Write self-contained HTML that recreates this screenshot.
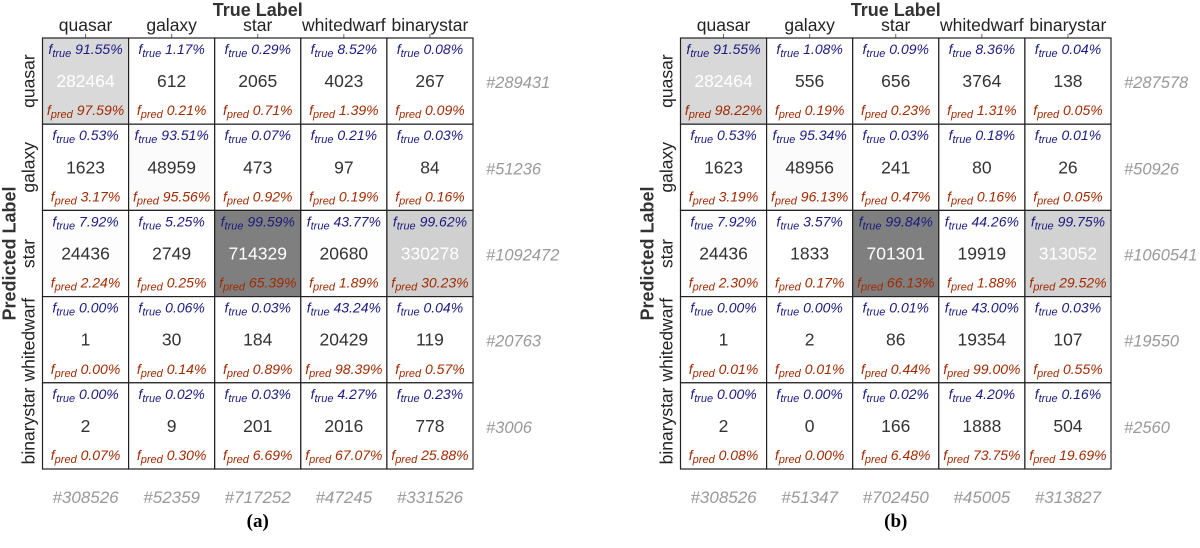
<!DOCTYPE html>
<html><head><meta charset="utf-8"><style>
body{margin:0;background:#fff;}
svg{display:block;font-family:"Liberation Sans",sans-serif;}
</style></head><body>
<svg id="chart" width="1200" height="548" viewBox="0 0 1200 548"></svg>
<script>
const classes = ["quasar","galaxy","star","whitedwarf","binarystar"];
// counts[row=predicted][col=true]
const countsA = [[282464,612,2065,4023,267],[1623,48959,473,97,84],[24436,2749,714329,20680,330278],[1,30,184,20429,119],[2,9,201,2016,778]];
const ftrueA = ["91.55","1.17","0.29","8.52","0.08","0.53","93.51","0.07","0.21","0.03","7.92","5.25","99.59","43.77","99.62","0.00","0.06","0.03","43.24","0.04","0.00","0.02","0.03","4.27","0.23"];
const fpredA = ["97.59","0.21","0.71","1.39","0.09","3.17","95.56","0.92","0.19","0.16","2.24","0.25","65.39","1.89","30.23","0.00","0.14","0.89","98.39","0.57","0.07","0.30","6.69","67.07","25.88"];
const rowTotA = [289431,51236,1092472,20763,3006];
const colTotA = [308526,52359,717252,47245,331526];
const countsB = [[282464,556,656,3764,138],[1623,48956,241,80,26],[24436,1833,701301,19919,313052],[1,2,86,19354,107],[2,0,166,1888,504]];
const ftrueB = ["91.55","1.08","0.09","8.36","0.04","0.53","95.34","0.03","0.18","0.01","7.92","3.57","99.84","44.26","99.75","0.00","0.00","0.01","43.00","0.03","0.00","0.00","0.02","4.20","0.16"];
const fpredB = ["98.22","0.19","0.23","1.31","0.05","3.19","96.13","0.47","0.16","0.05","2.30","0.17","66.13","1.88","29.52","0.01","0.01","0.44","99.00","0.55","0.08","0.00","6.48","73.75","19.69"];
const rowTotB = [287578,50926,1060541,19550,2560];
const colTotB = [308526,51347,702450,45005,313827];

const NS="http://www.w3.org/2000/svg";
const svg=document.getElementById('chart');
function mk(tag,attrs,parent,text){const e=document.createElementNS(NS,tag);for(const k in attrs)e.setAttribute(k,attrs[k]);if(text!==undefined)e.textContent=text;(parent||svg).appendChild(e);return e;}

function panel(x0,counts,ftrue,fpred,rowTot,colTot,letter){
  const y0=38,cw=86.1,ch=86.2,n=5;
  const g=mk('g',{});
  
  
  let max=0;counts.forEach(r=>r.forEach(v=>{if(v>max)max=v;}));
  const cx=j=>x0+j*cw, cy=i=>y0+i*ch;
  const t1=mk('text',{x:x0+cw*2.5,y:16,'text-anchor':'middle','font-size':18,'font-weight':'bold',fill:'#333'},g,'True Label');
  
  
  const t2=mk('text',{x:0,y:0,'text-anchor':'middle','font-size':18,'font-weight':'bold',fill:'#333',transform:`translate(${x0-27},${y0+ch*2.5}) rotate(-90)`},g,'Predicted Label');
  
  
  for(let j=0;j<n;j++){
    const l=mk('text',{x:cx(j)+cw/2,y:31,'text-anchor':'middle','font-size':17.5,fill:'#222'},g,classes[j]);
    
    
    mk('line',{x1:cx(j)+cw/2,x2:cx(j)+cw/2,y1:y0-4,y2:y0,stroke:'#666'},g);
    const ct=mk('text',{x:cx(j)+cw/2,y:503,'text-anchor':'middle','font-size':17,'font-style':'italic',fill:'#999'},g,'#'+colTot[j]);
    
    
  }
  for(let i=0;i<n;i++){
    const l=mk('text',{x:0,y:0,'text-anchor':'middle','font-size':17.5,fill:'#222',transform:`translate(${x0-8},${cy(i)+ch/2}) rotate(-90)`},g,classes[i]);
    
    
    const rt=mk('text',{x:x0+cw*5+13,y:cy(i)+ch/2+7,'font-size':16.5,'font-style':'italic',fill:'#999'},g,'#'+rowTot[i]);
    
    
    for(let j=0;j<n;j++){
      const v=counts[i][j];
      const gv=Math.round(255-128*Math.pow(v/max,1.3));
      const r=mk('rect',{x:cx(j),y:cy(i),width:cw,height:ch,fill:`rgb(${gv},${gv},${gv})`,stroke:'#222','stroke-width':1.2},g);
      
      
      const mx=cx(j)+cw/2;
      const ft=mk('text',{x:mx,y:cy(i)+16,'text-anchor':'middle','font-size':14,'font-style':'italic',fill:'#1a1a80'},g);
      
      
      mk('tspan',{},ft,'f');mk('tspan',{'font-size':11,dy:3},ft,'true');mk('tspan',{dy:-3},ft,' '+ftrue[i*5+j]+'%');
      const num=mk('text',{x:mx,y:cy(i)+ch/2+6,'text-anchor':'middle','font-size':17.5,fill:v>200000?'#fff':'#333'},g,String(v));
      
      
      const fp=mk('text',{x:mx,y:cy(i)+ch-9,'text-anchor':'middle','font-size':14,'font-style':'italic',fill:'#a02a00'},g);
      
      
      mk('tspan',{},fp,'f');mk('tspan',{'font-size':11,dy:3},fp,'pred');mk('tspan',{dy:-3},fp,' '+fpred[i*5+j]+'%');
    }
  }
  const cap=mk('text',{x:x0+cw*2.5,y:527,'text-anchor':'middle','font-size':19,'font-weight':'bold','font-family':'Liberation Serif, serif',fill:'#000'},g,'('+letter+')');
  
  
}
panel(42.5,countsA,ftrueA,fpredA,rowTotA,colTotA,'a');
panel(680.5,countsB,ftrueB,fpredB,rowTotB,colTotB,'b');
</script>
</body></html>
